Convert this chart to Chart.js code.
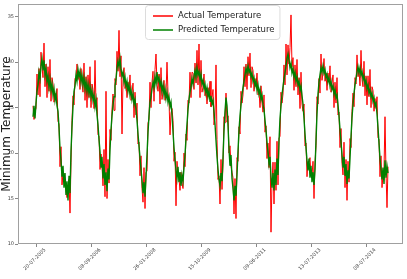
<!DOCTYPE html>
<html>
<head>
<meta charset="utf-8">
<script src="https://cdn.jsdelivr.net/npm/chart.js@4"></script>
<style>
  html, body { margin: 0; padding: 0; background: #fff; }
  canvas { display: block; }
</style>
</head>
<body>
<canvas id="tempChart" width="407" height="279"></canvas>
<script>
// x tick positions (sample index) and their date labels
const tickPos = [3, 58, 113, 168, 223, 278, 333];
const tickLabels = ['20-07-2005', '08-09-2006', '26-01-2008', '15-10-2009', '09-06-2011', '13-07-2013', '08-07-2014'];

const yTicks = [10, 15, 20, 25, 30, 35];

const actualTemp = [
  25.2, 23.7, 24.6, 24.9, 28.7, 26.4, 29.3, 26.2, 31.1, 29.5,
  28.3, 32.1, 27.3, 29.8, 26.1, 29.5, 26.8, 30.3, 25.7, 28.3,
  27.6, 25.6, 26.6, 25.9, 27.1, 23.5, 23.2, 18.5, 20.7, 16.5,
  17.8, 17.8, 16.5, 15.9, 15.1, 15.8, 17.1, 13.4, 19.0, 23.6,
  26.3, 25.3, 28.2, 28.0, 29.8, 28.1, 28.8, 27.0, 29.3, 27.7,
  26.7, 29.9, 25.8, 28.4, 25.0, 28.6, 26.1, 29.5, 25.0, 27.6,
  27.0, 24.9, 30.2, 25.3, 26.1, 22.0, 21.9, 18.2, 19.9, 18.7,
  16.4, 20.4, 15.2, 26.8, 15.0, 19.3, 16.7, 22.6, 21.4, 24.8,
  26.5, 24.7, 28.2, 27.5, 31.2, 29.0, 33.5, 28.4, 30.7, 22.1,
  28.1, 29.4, 27.1, 27.8, 26.1, 27.8, 27.1, 28.6, 25.8, 26.6,
  27.7, 23.9, 26.7, 24.2, 25.5, 21.0, 21.2, 17.5, 19.7, 16.1,
  14.6, 18.4, 13.9, 17.9, 18.0, 23.3, 23.7, 27.8, 25.0, 27.8,
  29.0, 25.7, 29.2, 30.9, 27.6, 26.8, 28.7, 25.4, 29.4, 25.9,
  26.7, 28.0, 25.8, 26.5, 30.0, 26.6, 25.8, 22.0, 24.4, 24.9,
  23.6, 19.1, 20.1, 14.2, 19.1, 17.4, 17.2, 15.9, 17.9, 16.7,
  16.1, 20.0, 18.5, 22.1, 21.4, 25.8, 25.5, 28.9, 26.1, 28.9,
  28.8, 27.0, 29.9, 27.7, 31.3, 27.5, 32.0, 26.1, 30.2, 26.7,
  27.2, 28.7, 26.3, 27.1, 25.4, 27.2, 26.4, 27.9, 25.1, 26.1,
  27.0, 23.1, 24.0, 29.7, 21.5, 17.1, 17.5, 14.4, 19.3, 16.0,
  18.7, 24.0, 23.3, 26.6, 23.4, 24.1, 20.0, 20.8, 18.6, 17.9,
  17.3, 13.3, 17.2, 12.8, 19.5, 19.1, 22.9, 22.1, 26.8, 25.5,
  26.4, 29.5, 27.3, 29.8, 27.0, 30.6, 28.5, 31.0, 27.2, 29.5,
  29.1, 26.8, 28.2, 27.3, 28.8, 26.4, 26.9, 25.0, 27.4, 25.5,
  24.5, 26.4, 22.3, 23.0, 19.4, 21.1, 18.4, 21.8, 11.3, 16.9,
  19.0, 14.4, 19.0, 15.9, 21.3, 16.5, 21.7, 21.8, 26.7, 25.5,
  26.5, 29.7, 27.5, 32.0, 28.6, 31.9, 29.8, 31.6, 35.2, 29.5,
  30.5, 26.9, 29.7, 27.3, 30.3, 26.4, 28.3, 24.9, 28.9, 25.4,
  24.6, 25.4, 20.8, 21.1, 17.4, 19.1, 19.0, 19.5, 17.4, 17.5,
  19.1, 15.0, 19.0, 20.8, 26.2, 25.4, 28.2, 26.6, 30.9, 28.0,
  28.8, 30.4, 27.9, 28.8, 26.9, 28.8, 27.9, 29.6, 26.7, 27.7,
  28.6, 25.0, 27.8, 25.5, 28.3, 24.2, 24.5, 20.6, 22.7, 18.9,
  17.6, 21.2, 16.2, 19.3, 14.8, 19.1, 16.8, 21.6, 20.6, 24.6,
  26.6, 25.1, 28.3, 27.6, 30.8, 28.4, 29.2, 27.4, 31.3, 28.1,
  27.3, 30.1, 26.3, 28.5, 25.3, 28.5, 26.2, 29.2, 25.0, 27.3,
  26.9, 24.6, 26.0, 24.9, 26.2, 21.7, 21.5, 17.4, 19.7, 16.2,
  17.6, 18.2, 24.0, 17.8, 14.0, 18.5
];

const predictedTemp = [
  24.0, 25.2, 23.8, 25.5, 26.8, 27.5, 28.9, 28.2, 29.6, 30.4,
  29.1, 30.2, 28.6, 29.3, 27.9, 28.5, 27.2, 28.1, 26.9, 27.6,
  26.4, 27.1, 25.8, 26.5, 25.2, 24.6, 22.8, 20.5, 19.2, 17.4,
  18.6, 16.2, 17.8, 15.4, 16.9, 14.8, 17.5, 15.6, 20.2, 22.9,
  25.1, 26.8, 27.4, 28.6, 27.9, 29.2, 28.4, 29.0, 27.8, 28.6,
  27.5, 28.3, 27.1, 27.9, 26.8, 27.6, 26.5, 27.3, 26.2, 26.9,
  25.8, 26.4, 25.1, 25.9, 24.2, 23.1, 21.5, 20.2, 18.4, 19.6,
  17.2, 18.8, 16.5, 17.9, 15.8, 18.3, 17.1, 20.4, 22.6, 24.1,
  25.3, 26.2, 27.4, 28.1, 29.3, 30.1, 29.5, 30.4, 29.2, 28.5,
  28.9, 27.8, 28.4, 27.3, 27.9, 26.8, 27.5, 26.4, 27.0, 25.9,
  26.5, 25.4, 25.9, 24.8, 23.6, 22.1, 20.8, 19.5, 18.2, 17.0,
  15.6, 16.8, 15.2, 17.4, 19.8, 22.3, 24.1, 25.6, 26.2, 27.1,
  27.8, 27.2, 28.4, 27.6, 28.9, 27.9, 28.3, 27.4, 27.9, 26.8,
  27.5, 26.4, 27.1, 26.0, 26.7, 25.6, 26.2, 25.1, 25.6, 24.2,
  22.4, 20.6, 19.3, 18.1, 17.2, 18.5, 16.8, 17.9, 16.4, 17.6,
  16.9, 18.4, 19.8, 21.6, 23.2, 24.8, 25.9, 26.7, 27.3, 28.2,
  27.6, 28.5, 29.1, 28.3, 29.4, 28.6, 29.0, 28.1, 28.7, 27.6,
  28.0, 27.1, 27.6, 26.6, 27.2, 26.2, 26.8, 25.7, 26.3, 25.4,
  25.8, 24.6, 23.2, 21.4, 19.6, 18.2, 17.1, 16.4, 17.8, 16.9,
  19.5, 22.4, 24.6, 26.1, 25.2, 23.1, 20.4, 18.6, 19.8, 17.2,
  16.1, 14.8, 16.4, 15.3, 17.6, 20.2, 22.5, 24.1, 25.3, 26.4,
  27.2, 27.9, 28.6, 29.3, 28.8, 29.6, 28.9, 29.2, 28.4, 28.8,
  27.9, 28.3, 27.4, 27.9, 26.9, 27.5, 26.5, 27.0, 25.9, 26.4,
  25.3, 24.8, 23.6, 22.5, 21.2, 20.1, 18.8, 19.6, 17.4, 16.2,
  17.8, 15.9, 18.2, 16.5, 19.4, 17.6, 21.3, 23.8, 25.2, 26.4,
  27.3, 28.1, 28.8, 29.6, 30.4, 30.9, 30.2, 29.4, 29.9, 28.8,
  29.3, 28.4, 28.9, 27.9, 28.4, 27.5, 27.9, 26.9, 27.4, 26.3,
  25.4, 23.8, 22.1, 20.6, 19.2, 18.1, 19.4, 17.3, 18.6, 16.8,
  17.9, 16.5, 18.2, 21.4, 24.3, 26.5, 27.8, 28.6, 29.4, 28.9,
  29.6, 28.8, 29.2, 28.3, 28.7, 27.8, 28.3, 27.4, 27.9, 27.0,
  27.4, 26.5, 27.0, 26.1, 26.4, 25.3, 24.1, 22.6, 21.2, 19.8,
  18.4, 19.6, 17.5, 18.8, 16.6, 18.1, 17.2, 19.4, 21.8, 23.9,
  25.4, 26.6, 27.5, 28.2, 28.9, 29.5, 28.8, 29.4, 28.6, 29.0,
  28.1, 28.5, 27.6, 28.0, 27.1, 27.5, 26.6, 27.0, 26.2, 26.6,
  25.7, 26.1, 25.2, 25.5, 24.3, 22.8, 21.1, 19.4, 18.2, 17.1,
  18.4, 16.6, 19.2, 17.3, 18.6, 17.8
];

const toPoints = arr => arr.map((v, i) => ({ x: i, y: v }));

// frame round the plot area, like the matplotlib axes box
const frame = {
  id: 'frame',
  afterDatasetsDraw(chart) {
    const { ctx, chartArea: a } = chart;
    ctx.save();
    ctx.strokeStyle = '#a0a0a0';
    ctx.lineWidth = 1;
    ctx.strokeRect(a.left + 0.5, a.top + 0.5, a.right - a.left - 1, a.bottom - a.top - 1);
    ctx.restore();
  }
};

// legend box inside the top of the plot
const boxLegend = {
  id: 'boxLegend',
  afterDraw(chart) {
    const { ctx } = chart;
    const items = [
      { text: 'Actual Temperature', color: 'red' },
      { text: 'Predicted Temperature', color: 'green' }
    ];
    ctx.save();
    ctx.font = '8.5px "DejaVu Sans"';
    const textW = Math.max(...items.map(it => ctx.measureText(it.text).width));
    const w = 8 + 20 + 5 + textW + 5;
    const h = 34;
    const x = 145;
    const y = 5;
    ctx.fillStyle = 'rgba(255,255,255,0.85)';
    ctx.strokeStyle = '#dcdcdc';
    ctx.lineWidth = 1;
    ctx.beginPath();
    ctx.roundRect(x + 0.5, y + 0.5, w, h, 3);
    ctx.fill();
    ctx.stroke();
    items.forEach((it, i) => {
      const cy = y + 11 + i * 14;
      ctx.strokeStyle = it.color;
      ctx.lineWidth = 1.5;
      ctx.beginPath();
      ctx.moveTo(x + 8, cy);
      ctx.lineTo(x + 28, cy);
      ctx.stroke();
      ctx.fillStyle = '#222';
      ctx.textBaseline = 'middle';
      ctx.fillText(it.text, x + 33, cy);
    });
    ctx.restore();
  }
};

new Chart(document.getElementById('tempChart').getContext('2d'), {
  type: 'line',
  data: {
    datasets: [
      {
        label: 'Actual Temperature',
        data: toPoints(actualTemp),
        borderColor: 'red',
        borderWidth: 1,
        pointRadius: 0,
        order: 2
      },
      {
        label: 'Predicted Temperature',
        data: toPoints(predictedTemp),
        borderColor: 'green',
        borderWidth: 1.4,
        pointRadius: 0,
        order: 1
      }
    ]
  },
  options: {
    responsive: false,
    animation: false,
    layout: { padding: { top: 1, right: 4, left: 0, bottom: 0 } },
    plugins: {
      legend: { display: false },
      tooltip: { enabled: false }
    },
    scales: {
      x: {
        type: 'linear',
        min: -15,
        max: 370,
        afterFit: scale => { scale.height = 35; },
        afterBuildTicks: scale => { scale.ticks = tickPos.map(v => ({ value: v })); },
        grid: { drawOnChartArea: false, tickLength: 3, color: '#888' },
        border: { display: false },
        ticks: {
          autoSkip: false,
          minRotation: 45,
          maxRotation: 45,
          labelOffset: 9,
          padding: 0,
          color: '#444',
          font: { family: 'DejaVu Sans', size: 5 },
          callback: v => tickLabels[tickPos.indexOf(v)]
        }
      },
      y: {
        min: 10,
        max: 36.4,
        afterFit: scale => { scale.width = 18; },
        afterBuildTicks: scale => { scale.ticks = yTicks.map(v => ({ value: v })); },
        grid: { drawOnChartArea: false, tickLength: 3, color: '#888' },
        border: { display: false },
        ticks: {
          padding: 1,
          color: '#444',
          font: { family: 'DejaVu Sans', size: 5 }
        },
        title: {
          display: true,
          text: 'Minimum Temperature',
          color: '#222',
          padding: 0,
          font: { family: 'DejaVu Sans', size: 12 }
        }
      }
    }
  },
  plugins: [frame, boxLegend]
});
</script>
</body>
</html>
